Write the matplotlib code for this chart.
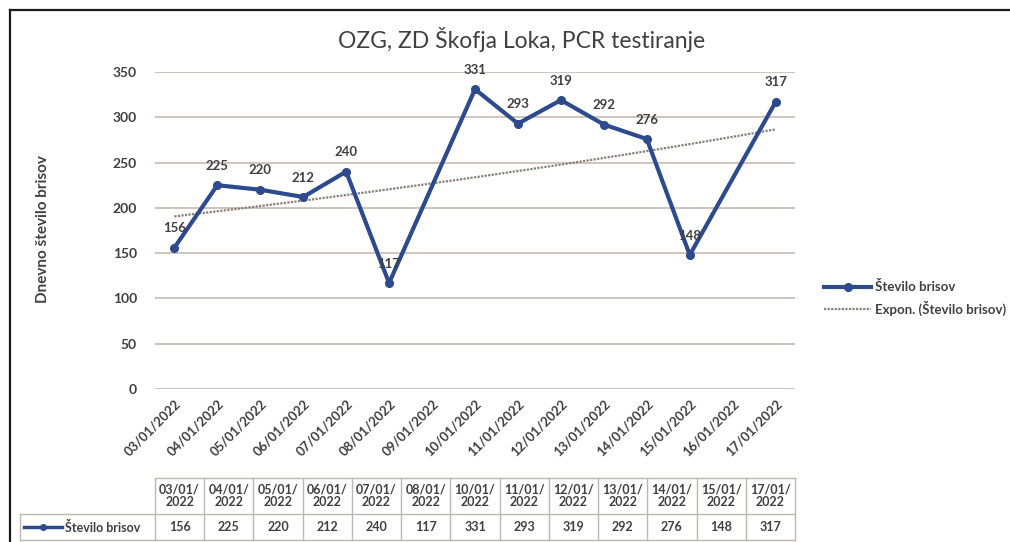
import numpy as np
import pandas as pd
import matplotlib
matplotlib.use("Agg")
import matplotlib.pyplot as plt
from matplotlib.lines import Line2D

dates = ["03/01/2022", "04/01/2022", "05/01/2022", "06/01/2022", "07/01/2022",
         "08/01/2022", "10/01/2022", "11/01/2022", "12/01/2022", "13/01/2022",
         "14/01/2022", "15/01/2022", "17/01/2022"]
brisi = [156, 225, 220, 212, 240, 117, 331, 293, 319, 292, 276, 148, 317]
series_name = "Število brisov"
trend_name = "Expon. (Število brisov)"
title = "OZG, ZD Škofja Loka, PCR testiranje"
ylabel = "Dnevno število brisov"
yticks = [0, 50, 100, 150, 200, 250, 300, 350]

plt.rcParams['font.family'] = ['Lato', 'DejaVu Sans']
TXT = '#404040'
NAVY = '#2C4A8C'
GRID = '#CDBFB8'
TREND = '#8A7E7A'

W, H = 1010, 542


def fx(px):
    return px / W


def fy(py):
    return 1 - py / H


d = pd.to_datetime(dates, dayfirst=True)
d0 = d[0]
x = np.array([(t - d0).days for t in d])
y = np.array(brisi, dtype=float)
all_days = pd.date_range(d[0], d[-1], freq="D")
xt = np.arange(len(all_days))

# exponential trendline (fit ln y on x, like Excel)
b, a = np.polyfit(x, np.log(y), 1)
xf = np.linspace(x[0], x[-1], 100)
yf = np.exp(a + b * xf)

fig = plt.figure(figsize=(W / 100, H / 100), dpi=100)
fig.patch.set_facecolor('white')

# outer chart border (top and left only are visible)
fig.add_artist(Line2D([fx(10), 1], [fy(10), fy(10)], transform=fig.transFigure,
                      color='#1a1a1a', lw=1.6))
fig.add_artist(Line2D([fx(10), fx(10)], [0, fy(10)], transform=fig.transFigure,
                      color='#1a1a1a', lw=1.6))

ax = fig.add_axes([fx(155), fy(389), fx(795) - fx(155), fy(72) - fy(389)])
ax.set_xlim(-0.45, len(all_days) - 0.55)
ax.set_ylim(0, 350)
ax.set_yticks(yticks)
ax.yaxis.grid(True, color=GRID, lw=1.3)
ax.set_axisbelow(True)
for s in ax.spines.values():
    s.set_visible(False)
ax.tick_params(axis='both', length=0, colors=TXT)
ax.tick_params(axis='y', pad=13, labelsize=10)
for lab in ax.get_yticklabels():
    lab.set_fontweight('bold')

ax.set_xticks(xt)
ax.set_xticklabels([t.strftime('%d/%m/%Y') for t in all_days], rotation=45,
                   ha='right', va='top', rotation_mode='anchor',
                   fontsize=9.5, fontweight='bold', color=TXT)
ax.tick_params(axis='x', pad=6)

ax.plot(x, y, color=NAVY, lw=3, marker='o', ms=5.5, mfc=NAVY, mec=NAVY,
        label=series_name, zorder=3)
ax.plot(xf, yf, color=TREND, lw=1.6, ls=(0, (1, 0.6)), label=trend_name, zorder=2)

for xi, yi in zip(x, brisi):
    ax.annotate(str(yi), (xi, yi), xytext=(0, 14), textcoords='offset points',
                ha='center', va='center', fontsize=9.5, fontweight='bold',
                color=TXT, zorder=4)

fig.text(fx(522), fy(40), title, ha='center', va='center', fontsize=16.5,
         color=TXT)
fig.text(fx(43), fy(229), ylabel, ha='center', va='center', rotation=90,
         fontsize=11, fontweight='bold', color=TXT)

fig.legend(*ax.get_legend_handles_labels(), loc='center left',
           bbox_to_anchor=(fx(812), fy(298)), frameon=False,
           handlelength=3.6, handletextpad=0.3, labelspacing=0.55,
           prop={'size': 9.5, 'weight': 'bold'}, labelcolor=TXT)

# data table below the axis
tab = fig.add_axes([0, 0, 1, 1], facecolor='none')
tab.set_xlim(0, W)
tab.set_ylim(H, 0)
tab.axis('off')
BORD = '#BFB6B2'
left, x0, x1 = 20, 155, 795
top, mid, bot = 478, 514, 540
n = len(dates)
cw = (x1 - x0) / n
tab.plot([x0, x1], [top, top], color=BORD, lw=1)
tab.plot([left, x1], [mid, mid], color=BORD, lw=1)
tab.plot([left, x1], [bot, bot], color=BORD, lw=1)
tab.plot([left, left], [mid, bot], color=BORD, lw=1)
for i in range(n + 1):
    tab.plot([x0 + i * cw] * 2, [top, bot], color=BORD, lw=1)
for i, (ds, v) in enumerate(zip(dates, brisi)):
    cx = x0 + (i + 0.5) * cw
    tab.text(cx, (top + mid) / 2, ds[:6] + "\n" + ds[6:], ha='center',
             va='center', fontsize=9, fontweight='bold', color=TXT,
             linespacing=1.1)
    tab.text(cx, (mid + bot) / 2, str(v), ha='center', va='center',
             fontsize=9, fontweight='bold', color=TXT)
tab.plot([24, 62], [(mid + bot) / 2] * 2, color=NAVY, lw=2.5)
tab.plot([43], [(mid + bot) / 2], marker='o', ms=4, color=NAVY)
tab.text(65, (mid + bot) / 2, series_name, ha='left', va='center',
         fontsize=9, fontweight='bold', color=TXT)

fig.savefig('out.png', dpi=100)
